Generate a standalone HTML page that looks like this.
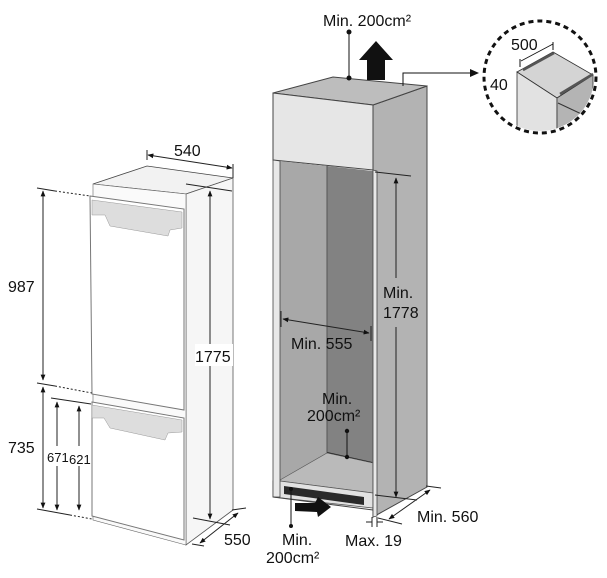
<!DOCTYPE html>
<html><head><meta charset="utf-8"><style>
html,body{margin:0;padding:0;background:#fff}
svg{display:block}
text{font-family:"Liberation Sans",sans-serif;fill:#111}
</style></head><body>
<svg width="607" height="578" viewBox="0 0 607 578" xmlns="http://www.w3.org/2000/svg">
<defs>
<marker id="a" viewBox="0 0 10 10" refX="9" refY="5" markerWidth="6" markerHeight="6" orient="auto-start-reverse"><path d="M0,1 L10,5 L0,9 z" fill="#111"/></marker>
</defs>
<rect width="607" height="578" fill="#fff"/>

<!-- ===== FRIDGE (left) ===== -->
<polygon points="93,184 147,166 233,178 186,194" fill="#f2f2f2" stroke="#444" stroke-width="0.8"/>
<polygon points="186,194 233,178 233,510 186,545" fill="#f6f6f6" stroke="#555" stroke-width="0.8"/>
<polygon points="93,184 186,194 186,545 93,520" fill="#fafafa" stroke="#666" stroke-width="0.6"/>
<polygon points="90,196 184,209 184,410 92,394" fill="#fff" stroke="#777" stroke-width="1"/>
<polygon points="92,200 182,212 182,228 170,230 168,236 110,226 105,215 92,215" fill="#ddd" stroke="#999" stroke-width="0.5"/>
<polygon points="92,402 184,418 184,540 92,516" fill="#fff" stroke="#777" stroke-width="1"/>
<polygon points="92,405 182,420 182,432 168,433 165,440 110,428 104,418 92,418" fill="#ddd" stroke="#999" stroke-width="0.5"/>

<line x1="147" y1="150" x2="147" y2="160" stroke="#222"/>
<line x1="233" y1="164" x2="233" y2="178" stroke="#222"/>
<line x1="148" y1="155" x2="232" y2="168" stroke="#222" marker-start="url(#a)" marker-end="url(#a)"/>
<text x="174" y="156" font-size="16">540</text>
<line x1="186" y1="184" x2="232" y2="191" stroke="#222"/>

<line x1="37" y1="188" x2="55" y2="191" stroke="#222"/>
<line x1="55" y1="191" x2="90" y2="196" stroke="#222" stroke-dasharray="2,2"/>
<line x1="43" y1="191" x2="43" y2="380" stroke="#222" marker-start="url(#a)" marker-end="url(#a)"/>
<text x="8" y="292" font-size="16">987</text>
<line x1="37" y1="383" x2="55" y2="386" stroke="#222"/>
<line x1="55" y1="386" x2="92" y2="393" stroke="#222" stroke-dasharray="2,2"/>
<line x1="43" y1="387" x2="43" y2="508" stroke="#222" marker-start="url(#a)" marker-end="url(#a)"/>
<text x="8" y="453" font-size="16">735</text>
<line x1="51" y1="398" x2="91" y2="404" stroke="#222"/>
<line x1="57" y1="402" x2="57" y2="510" stroke="#222" marker-start="url(#a)" marker-end="url(#a)"/>
<line x1="79" y1="406" x2="79" y2="510" stroke="#222" marker-start="url(#a)" marker-end="url(#a)"/>
<rect x="46" y="446" width="42" height="20" fill="#fff"/>
<text x="47" y="462" font-size="13">671</text>
<text x="69" y="464" font-size="13">621</text>
<line x1="37" y1="509" x2="70" y2="515" stroke="#222"/>
<line x1="70" y1="515" x2="92" y2="519" stroke="#222" stroke-dasharray="2,2"/>

<line x1="210" y1="191" x2="210" y2="519" stroke="#222" marker-start="url(#a)" marker-end="url(#a)"/>
<rect x="195" y="344" width="38" height="22" fill="#fff"/>
<text x="195" y="362" font-size="16">1775</text>
<line x1="193" y1="518" x2="230" y2="525" stroke="#222"/>
<line x1="200" y1="543" x2="238" y2="513" stroke="#222" marker-start="url(#a)" marker-end="url(#a)"/>
<line x1="232" y1="510" x2="246" y2="508" stroke="#222"/>
<line x1="192" y1="544" x2="204" y2="546" stroke="#222"/>
<text x="224" y="545" font-size="16">550</text>

<!-- ===== CABINET (right) ===== -->
<polygon points="373,105 427,86 427,487 373,517" fill="#b3b3b3" stroke="#444" stroke-width="1"/>
<polygon points="273,93 333,77 427,86 373,105" fill="#bdbdbd" stroke="#444" stroke-width="1"/>
<polygon points="273,93 373,105 373,170 273,160" fill="#e6e6e6" stroke="#444" stroke-width="1"/>
<polygon points="280,161 327,166 327,453 280,480" fill="#a8a8a8"/>
<polygon points="327,166 373,171 373,463 327,453" fill="#828282"/>
<line x1="327" y1="166" x2="327" y2="453" stroke="#555"/>
<line x1="327" y1="453" x2="372" y2="463" stroke="#222" stroke-width="2"/>
<polygon points="280,480 327,453 373,463 373,493 280,481" fill="#bababa" stroke="#555" stroke-width="0.6"/>
<polygon points="280,481 373,493 373,508 273,497 273,481" fill="#e2e2e2" stroke="#555" stroke-width="0.8"/>
<polygon points="273,160 280,161 280,497 273,497" fill="#e8e8e8" stroke="#444" stroke-width="0.8"/>
<polygon points="373,170 377,171 377,516 373,517" fill="#e8e8e8" stroke="#444" stroke-width="0.8"/>
<line x1="273" y1="497" x2="373" y2="510" stroke="#444"/>
<polygon points="284,486 364,497 364,505 284,494" fill="#2a2a2a"/>
<polygon points="295,503 315,503 318,497 331,507 318,517 317,512 295,511" fill="#111"/>

<text x="323" y="26" font-size="16">Min. 200cm²</text>
<line x1="349" y1="32" x2="349" y2="78" stroke="#111"/>
<circle cx="349" cy="32" r="2.5" fill="#111"/>
<circle cx="349" cy="78" r="2.5" fill="#111"/>
<polygon points="367,80 385,80 385,60 393,60 376,41 359,60 367,60" fill="#111"/>
<polyline points="403,86 403,73 474,73" fill="none" stroke="#111"/>
<polygon points="470,69 479,73 470,77" fill="#111"/>

<circle cx="540" cy="77" r="56" fill="#fff" stroke="#111" stroke-width="3" stroke-dasharray="5,4"/>
<clipPath id="cc"><circle cx="540" cy="77" r="54"/></clipPath>
<g clip-path="url(#cc)">
<polygon points="517,72 553,52 593,75 557,98" fill="#d4d4d4" stroke="#333" stroke-width="0.8"/>
<polygon points="517,72 557,98 557,140 517,140" fill="#e2e2e2" stroke="#333" stroke-width="0.8"/>
<polygon points="557,98 593,75 593,140 557,140" fill="#b4b4b4" stroke="#333" stroke-width="0.8"/>
<line x1="523" y1="70" x2="554" y2="53" stroke="#555" stroke-width="2.5"/>
<line x1="560" y1="94" x2="593" y2="74" stroke="#555" stroke-width="2.5"/>
<line x1="558" y1="103" x2="590" y2="118" stroke="#333"/>
</g>
<line x1="521" y1="61" x2="553" y2="44" stroke="#111" stroke-width="0.8"/>
<line x1="553" y1="42" x2="553" y2="50" stroke="#111"/>
<line x1="520" y1="59" x2="520" y2="67" stroke="#111"/>
<text x="511" y="50" font-size="16">500</text>
<text x="490" y="90" font-size="16">40</text>

<line x1="375" y1="172" x2="411" y2="176" stroke="#222"/>
<line x1="396" y1="178" x2="396" y2="278" stroke="#222" marker-start="url(#a)"/>
<line x1="396" y1="327" x2="396" y2="497" stroke="#222" marker-end="url(#a)"/>
<text x="383" y="298" font-size="16">Min.</text>
<text x="383" y="318" font-size="16">1778</text>
<line x1="375" y1="495" x2="417" y2="500" stroke="#222"/>

<line x1="281" y1="311" x2="281" y2="327" stroke="#222"/>
<line x1="371" y1="326" x2="371" y2="341" stroke="#222"/>
<line x1="283" y1="319" x2="369" y2="333" stroke="#222" marker-start="url(#a)" marker-end="url(#a)"/>
<text x="291" y="349" font-size="16">Min. 555</text>

<text x="322" y="404" font-size="16">Min.</text>
<text x="307" y="421" font-size="16">200cm²</text>
<line x1="347" y1="431" x2="347" y2="457" stroke="#111"/>
<circle cx="347" cy="431" r="2.2" fill="#111"/>
<circle cx="347" cy="457" r="2.2" fill="#111"/>

<line x1="291" y1="489" x2="291" y2="526" stroke="#111"/>
<circle cx="291" cy="489" r="2" fill="#111"/>
<circle cx="291" cy="526" r="2" fill="#111"/>
<text x="282" y="545" font-size="16">Min.</text>
<text x="266" y="563" font-size="16">200cm²</text>
<line x1="372" y1="517" x2="372" y2="527" stroke="#222"/>
<line x1="377" y1="517" x2="377" y2="527" stroke="#222"/>
<line x1="366" y1="522" x2="372" y2="522" stroke="#222"/>
<line x1="377" y1="522" x2="383" y2="522" stroke="#222"/>
<text x="345" y="546" font-size="16">Max. 19</text>
<line x1="378" y1="518" x2="402" y2="524" stroke="#222"/>
<line x1="426" y1="486" x2="441" y2="488" stroke="#222"/>
<line x1="389" y1="519" x2="430" y2="490" stroke="#222" marker-start="url(#a)" marker-end="url(#a)"/>
<text x="417" y="522" font-size="16">Min. 560</text>
</svg>
</body></html>
